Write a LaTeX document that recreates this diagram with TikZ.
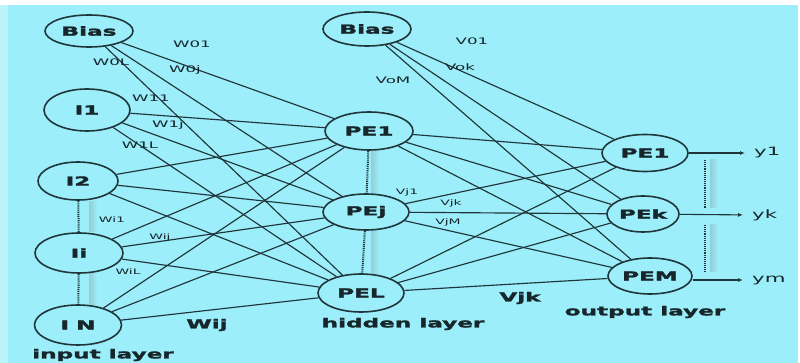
\documentclass[tikz,border=0pt]{standalone}
\usepackage{fontspec}
\setmainfont{DejaVu Sans}
\newfontfamily\heavyfont[BoldFeatures={FakeBold=1.6}]{DejaVu Sans}
\usetikzlibrary{shapes.geometric,arrows.meta}
\definecolor{bgcyan}{RGB}{155,238,250}
\definecolor{rimcyan}{RGB}{188,243,250}
\definecolor{ink}{RGB}{22,38,42}
\definecolor{wire}{RGB}{32,54,58}
% wide lettering used throughout the figure
\newcommand{\wtext}[1]{\scalebox{1.85}[1]{#1}}

\begin{document}
\begin{tikzpicture}[x=1pt,y=-1pt,
  unit/.style={ellipse,draw=wire,line width=1.6pt,inner sep=0pt,
    font=\heavyfont\bfseries\fontsize{12.5}{12.5}\selectfont,text=ink},
  wlabel/.style={font=\fontsize{9}{9}\selectfont,text=ink,inner sep=0pt},
  vlabel/.style={font=\fontsize{7.5}{7.5}\selectfont,text=ink,inner sep=0pt},
  caption/.style={font=\heavyfont\bfseries\fontsize{12.5}{12.5}\selectfont,text=ink,inner sep=0pt},
  outlabel/.style={font=\fontsize{11.5}{11.5}\selectfont,text=ink,inner sep=0pt,anchor=west},
  wire/.style={draw=wire,line width=1.15pt},
  vdots/.style={draw=wire,line width=2pt,dash pattern=on 1pt off 0.9pt},
  outarrow/.style={draw=wire,line width=1.1pt,-{Latex[length=5pt,width=4pt]},shorten >=9pt}
]
% background
\fill[bgcyan] (0,0) rectangle (800,363);
\fill[rimcyan] (0,0) rectangle (8,363);
\fill[white] (0,0) rectangle (800,5);
\fill[white] (798,0) rectangle (800,363);
\useasboundingbox (0,0) rectangle (800,363);

% faint shadows beside the dotted links
\shade[left color=gray!30!bgcyan,right color=bgcyan] (89,202) rectangle (97,232);
\shade[left color=gray!30!bgcyan,right color=bgcyan] (89,273) rectangle (97,305);
\shade[left color=gray!30!bgcyan,right color=bgcyan] (371,150) rectangle (379,195);
\shade[left color=gray!30!bgcyan,right color=bgcyan] (371,230) rectangle (379,275);
\shade[left color=gray!30!bgcyan,right color=bgcyan] (710,160) rectangle (718,208);
\shade[left color=gray!30!bgcyan,right color=bgcyan] (710,225) rectangle (718,272);

% input layer
\node[unit,minimum width=88pt,minimum height=32pt] (ib) at (89,31) {\wtext{Bias}};
\node[unit,minimum width=86pt,minimum height=42pt] (i1) at (87,110) {\wtext{I1}};
\node[unit,minimum width=80pt,minimum height=38pt] (i2) at (78,181) {\wtext{I2}};
\node[unit,minimum width=88pt,minimum height=40pt] (ii) at (79,253) {\wtext{Ii}};
\node[unit,minimum width=87pt,minimum height=40pt] (in) at (78,325) {\wtext{I\hspace{0.3em}N}};

% hidden layer
\node[unit,minimum width=88pt,minimum height=34pt] (hb) at (367,29) {\wtext{Bias}};
\node[unit,minimum width=88pt,minimum height=38pt] (h1) at (369,131) {\wtext{PE1}};
\node[unit,minimum width=86pt,minimum height=36pt] (hj) at (366,212) {\wtext{PEj}};
\node[unit,minimum width=86pt,minimum height=38pt] (hl) at (361,293) {\wtext{PEL}};

% output layer
\node[unit,minimum width=86pt,minimum height=37pt] (o1) at (645,153) {\wtext{PE1}};
\node[unit,minimum width=72pt,minimum height=36pt] (ok) at (643,214) {\wtext{PEk}};
\node[unit,minimum width=84pt,minimum height=36pt] (om) at (650,276) {\wtext{PEM}};

% outputs
\node[outlabel] (y1) at (754,153) {\wtext{y1}};
\node[outlabel] (yk) at (752,215) {\wtext{yk}};
\node[outlabel] (ym) at (752,280) {\wtext{ym}};

% input to hidden connections
\foreach \a in {ib,i1,i2,ii,in}
  \foreach \b in {h1,hj,hl}
    \draw[wire] (\a) -- (\b);

% hidden to output connections
\foreach \a in {hb,h1,hj,hl}
  \foreach \b in {o1,ok,om}
    \draw[wire] (\a) -- (\b);

% output arrows
\draw[outarrow] (o1) -- (y1.west);
\draw[outarrow] (ok) -- (yk.west);
\draw[outarrow] (om.east |- ym.west) -- (ym.west);

% dotted links within a layer
\draw[vdots] (i2) -- (ii);
\draw[vdots] (ii) -- (in);
\draw[vdots] (h1) -- (hj);
\draw[vdots] (hj) -- (hl);
\coordinate (d1) at (705,160);
\coordinate (d2) at (705,208);
\coordinate (d3) at (705,225);
\coordinate (d4) at (705,272);
\draw[vdots] (d1) -- (d2);
\draw[vdots] (d3) -- (d4);

% weight labels, input side
\node[wlabel] (lw01) at (192,44) {\wtext{W01}};
\node[wlabel] (lw0l) at (111,62) {\wtext{W0L}};
\node[wlabel] (lw0j) at (185,70) {\wtext{W0j}};
\node[wlabel] (lw11) at (151,98) {\wtext{W11}};
\node[wlabel] (lw1j) at (168,125) {\wtext{W1j}};
\node[wlabel] (lw1l) at (140,145) {\wtext{W1L}};
\node[vlabel] (lwi1) at (112,220) {\wtext{Wi1}};
\node[vlabel] (lwij) at (160,237) {\wtext{Wij}};
\node[vlabel] (lwil) at (128,272) {\wtext{WiL}};
\node[caption] (lwbig) at (207,325) {\wtext{Wij}};

% weight labels, output side
\node[wlabel] (lv01) at (472,41) {\wtext{V01}};
\node[wlabel] (lvok) at (460,67) {\wtext{Vok}};
\node[wlabel] (lvom) at (393,80) {\wtext{VoM}};
\node[vlabel] (lvj1) at (407,192) {\wtext{Vj1}};
\node[vlabel] (lvjk) at (451,203) {\wtext{Vjk}};
\node[vlabel] (lvjm) at (448,222) {\wtext{VjM}};
\node[caption] (lvbig) at (520,298) {\wtext{Vjk}};

% layer captions
\node[caption] (capin) at (103,355) {\wtext{input layer}};
\node[caption] (caphid) at (403,324) {\wtext{hidden layer}};
\node[caption] (capout) at (645,312) {\wtext{output layer}};
\end{tikzpicture}
\end{document}
